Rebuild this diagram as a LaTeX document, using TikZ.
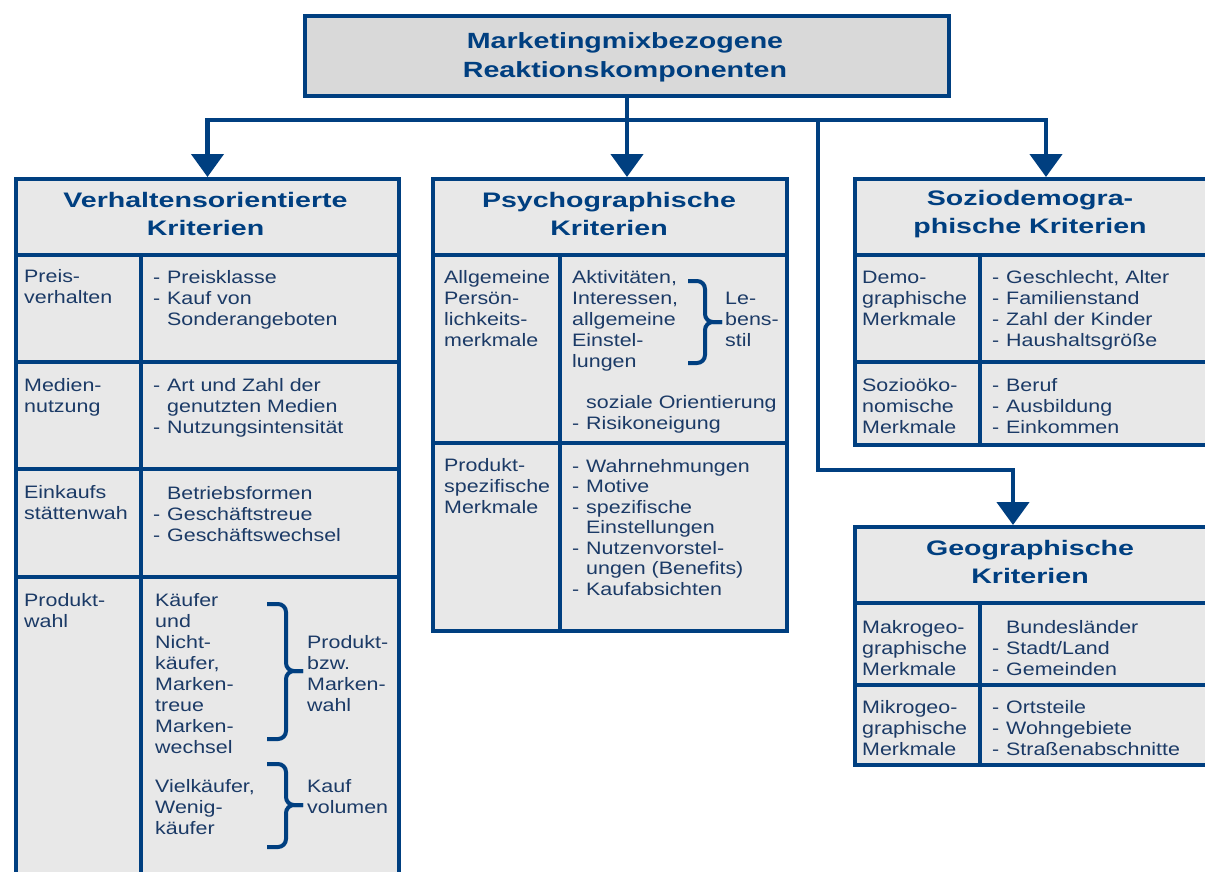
\documentclass[tikz,border=0pt]{standalone}
\usepackage{fontspec}
\setmainfont{Liberation Sans}
\newfontfamily\bodyf{Liberation Sans}[FakeStretch=1.19]
\newfontfamily\headf{Liberation Sans}[FakeStretch=1.36]
\newfontfamily\topf{Liberation Sans}[FakeStretch=1.3]
\usetikzlibrary{arrows.meta}
\definecolor{navy}{HTML}{003F80}
\definecolor{txt}{HTML}{1B3A66}
\definecolor{boxfill}{HTML}{E8E8E8}
\definecolor{topfill}{HTML}{D9D9D9}
\newcommand\ml[1]{\begin{tabular}[t]{@{}l@{}}#1\end{tabular}}
\newcommand\mlc[1]{\begin{tabular}[t]{@{}c@{}}#1\end{tabular}}
\newcommand\dd[1]{\makebox[14pt][l]{-}#1}
\newcommand\ind{\hspace*{14pt}}
\begin{document}
\begin{tikzpicture}[x=1pt,y=-1pt,
  box/.style={draw=navy, line width=4pt, fill=boxfill, anchor=north west, inner sep=0pt},
  div/.style={draw=navy, line width=4pt},
  conn/.style={draw=navy, line width=4.5pt, line join=miter},
  arr/.style={conn, -{Triangle[width=32pt,length=23pt]}},
  body/.style={anchor=base west, inner sep=0pt, text=txt, font=\bodyf\fontsize{18}{21}\selectfont},
  head/.style={anchor=base, inner sep=0pt, text=navy, font=\headf\bfseries\fontsize{21}{28}\selectfont},
  brc/.style={draw=navy, line width=4pt, rounded corners=8pt}
]
\useasboundingbox (0,0) rectangle (1205,871);
\fill[white] (0,0) rectangle (1205,871);

% top box
\node[box, fill=topfill, minimum width=644pt, minimum height=80pt] (top) at (303,14) {};
\node[anchor=base, inner sep=0pt, text=navy, font=\topf\bfseries\fontsize{22}{29}\selectfont] (toptxt) at (625,48) {\mlc{Marketingmixbezogene\\Reaktionskomponenten}};

% boxes
\node[box, minimum width=383pt, minimum height=705pt] (vk) at (14,177) {};
\node[box, minimum width=354pt, minimum height=452pt] (ps) at (431,177) {};
\node[box, minimum width=356pt, minimum height=266pt] (sd) at (853,177) {};
\node[box, minimum width=356pt, minimum height=238pt] (geo) at (853,525) {};

% dividers left box
\draw[div] (14,255) -- (397,255);
\draw[div] (14,362) -- (397,362);
\draw[div] (14,469) -- (397,469);
\draw[div] (14,577) -- (397,577);
\draw[div] (141,255) -- (141,882);
% middle
\draw[div] (431,255) -- (785,255);
\draw[div] (431,443) -- (785,443);
\draw[div] (560,255) -- (560,629);
% sozio
\draw[div] (853,255) -- (1209,255);
\draw[div] (853,362) -- (1209,362);
\draw[div] (980,255) -- (980,443);
% geo
\draw[div] (853,603) -- (1209,603);
\draw[div] (853,685) -- (1209,685);
\draw[div] (980,603) -- (980,763);

% connectors
\coordinate (bus) at (625,120);
\coordinate (busR) at (1046,120);
\coordinate (busG) at (818,120);
\coordinate (bend) at (1013,470);
\draw[arr] (top.south) -- (top.south |- ps.north);
\draw[arr] (bus) -| (vk.north);
\draw[arr] (bus) -- (busR) -- (busR |- sd.north);
\draw[arr] (busG) |- (bend) -- (bend |- geo.north);

% titles
\node[head] (t1) at (205.5,207) {\mlc{Verhaltensorientierte\\Kriterien}};
\node[head] (t2) at (609,207) {\mlc{Psychographische\\Kriterien}};
\node[head] (t3) at (1030,205) {\mlc{Soziodemogra-\\phische Kriterien}};
\node[head] (t4) at (1030,555) {\mlc{Geographische\\Kriterien}};

% left box texts
\node[body] (a1) at (24,282) {\ml{Preis-\\verhalten}};
\node[body] (a2) at (153,283) {\ml{\dd{Preisklasse}\\\dd{Kauf von}\\\ind Sonderangeboten}};
\node[body] (b1) at (24,391) {\ml{Medien-\\nutzung}};
\node[body] (b2) at (153,391) {\ml{\dd{Art und Zahl der}\\\ind genutzten Medien\\\dd{Nutzungsintensität}}};
\node[body] (c1) at (24,498) {\ml{Einkaufs\\stättenwah}};
\node[body] (c2) at (153,499) {\ml{\ind Betriebsformen\\\dd{Geschäftstreue}\\\dd{Geschäftswechsel}}};
\node[body] (d1) at (24,606) {\ml{Produkt-\\wahl}};
\node[body] (d2) at (155,606) {\ml{Käufer\\und\\Nicht-\\käufer,\\Marken-\\treue\\Marken-\\wechsel}};
\node[body] (d3) at (307,648) {\ml{Produkt-\\bzw.\\Marken-\\wahl}};
\node[body] (d4) at (155,792) {\ml{Vielkäufer,\\Wenig-\\käufer}};
\node[body] (d5) at (307,792) {\ml{Kauf\\volumen}};
\draw[brc] (267,604) -| (286,671) -- (303,671);
\draw[brc] (303,671) -- (286,671) |- (267,739);
\draw[brc] (267,764) -| (286,805) -- (303,805);
\draw[brc] (303,805) -- (286,805) |- (267,847);

% middle texts
\node[body] (e1) at (444,283) {\ml{Allgemeine\\Persön-\\lichkeits-\\merkmale}};
\node[body] (e2) at (572,283) {\ml{Aktivitäten,\\Interessen,\\allgemeine\\Einstel-\\lungen}};
\node[body] (e3) at (725,304) {\ml{Le-\\bens-\\stil}};
\draw[brc] (688,281) -| (705,322) -- (722,322);
\draw[brc] (722,322) -- (705,322) |- (688,363);
\node[body] (e4) at (572,408) {\ml{\ind soziale Orientierung\\\dd{Risikoneigung}}};
\node[body] (f1) at (444,471) {\ml{Produkt-\\spezifische\\Merkmale}};
\node[body, font=\bodyf\fontsize{18}{20.5}\selectfont] (f2) at (572,472) {\ml{\dd{Wahrnehmungen}\\\dd{Motive}\\\dd{spezifische}\\\ind Einstellungen\\\dd{Nutzenvorstel-}\\\ind ungen (Benefits)\\\dd{Kaufabsichten}}};

% sozio texts
\node[body] (g1) at (862,283) {\ml{Demo-\\graphische\\Merkmale}};
\node[body] (g2) at (992,283) {\ml{\dd{Geschlecht, Alter}\\\dd{Familienstand}\\\dd{Zahl der Kinder}\\\dd{Haushaltsgröße}}};
\node[body] (h1) at (862,391) {\ml{Sozioöko-\\nomische\\Merkmale}};
\node[body] (h2) at (992,391) {\ml{\dd{Beruf}\\\dd{Ausbildung}\\\dd{Einkommen}}};

% geo texts
\node[body] (i1) at (862,633) {\ml{Makrogeo-\\graphische\\Merkmale}};
\node[body] (i2) at (992,633) {\ml{\ind Bundesländer\\\dd{Stadt/Land}\\\dd{Gemeinden}}};
\node[body] (j1) at (862,713) {\ml{Mikrogeo-\\graphische\\Merkmale}};
\node[body] (j2) at (992,713) {\ml{\dd{Ortsteile}\\\dd{Wohngebiete}\\\dd{Straßenabschnitte}}};
\end{tikzpicture}
\end{document}
